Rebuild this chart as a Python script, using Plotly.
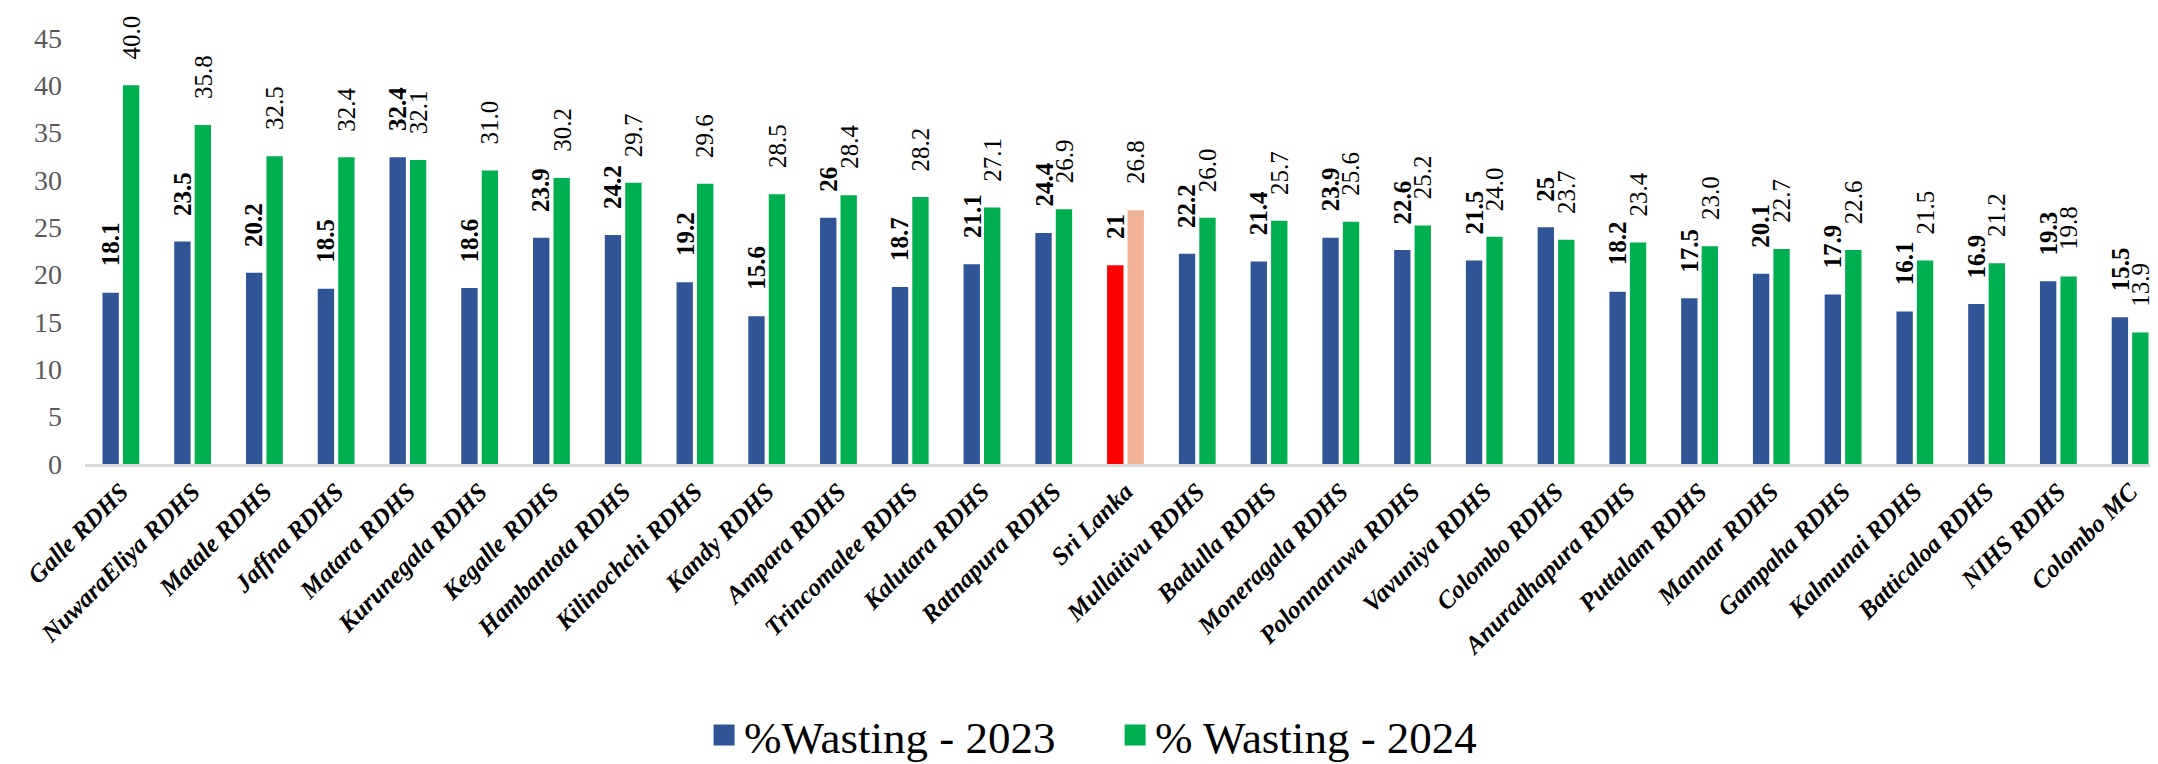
import plotly.graph_objects as go

categories = ["Galle RDHS", "NuwaraEliya RDHS", "Matale RDHS", "Jaffna RDHS", "Matara RDHS",
              "Kurunegala RDHS", "Kegalle RDHS", "Hambantota RDHS", "Kilinochchi RDHS", "Kandy RDHS",
              "Ampara RDHS", "Trincomalee RDHS", "Kalutara RDHS", "Ratnapura RDHS", "Sri Lanka",
              "Mullaitivu RDHS", "Badulla RDHS", "Moneragala RDHS", "Polonnaruwa RDHS", "Vavuniya RDHS",
              "Colombo RDHS", "Anuradhapura RDHS", "Puttalam RDHS", "Mannar RDHS", "Gampaha RDHS",
              "Kalmunai RDHS", "Batticaloa RDHS", "NIHS RDHS", "Colombo MC"]
wasting_2023 = [18.1, 23.5, 20.2, 18.5, 32.4, 18.6, 23.9, 24.2, 19.2, 15.6,
                26, 18.7, 21.1, 24.4, 21, 22.2, 21.4, 23.9, 22.6, 21.5,
                25, 18.2, 17.5, 20.1, 17.9, 16.1, 16.9, 19.3, 15.5]
wasting_2024 = [40.0, 35.8, 32.5, 32.4, 32.1, 31.0, 30.2, 29.7, 29.6, 28.5,
                28.4, 28.2, 27.1, 26.9, 26.8, 26.0, 25.7, 25.6, 25.2, 24.0,
                23.7, 23.4, 23.0, 22.7, 22.6, 21.5, 21.2, 19.8, 13.9]
series_names = ["%Wasting - 2023", "% Wasting - 2024"]
y_ticks = [0, 5, 10, 15, 20, 25, 30, 35, 40, 45]

BLUE = "#2F5597"
GREEN = "#00B050"
RED = "#FF0000"
PEACH = "#F0B396"
FONT = "'Liberation Serif', 'Times New Roman', 'DejaVu Serif', serif"

colors_2023 = [RED if c == "Sri Lanka" else BLUE for c in categories]
colors_2024 = [PEACH if c == "Sri Lanka" else GREEN for c in categories]

fig = go.Figure()
fig.add_trace(go.Bar(x=categories, y=wasting_2023, name=series_names[0],
                     marker=dict(color=colors_2023, line=dict(width=0)), showlegend=False))
fig.add_trace(go.Bar(x=categories, y=wasting_2024, name=series_names[1],
                     marker=dict(color=colors_2024, line=dict(width=0)), showlegend=False))

# legend entries with larger square swatches
for nm, col in zip(series_names, [BLUE, GREEN]):
    fig.add_trace(go.Scatter(x=[None], y=[None], mode="markers", name=nm,
                             marker=dict(symbol="square", size=16, color=col,
                                         line=dict(color=col, width=5))))

XSH = 10.2
annotations = []
for c, v in zip(categories, wasting_2023):
    annotations.append(dict(x=c, y=v, xref="x", yref="y", text=f"{v:g}", showarrow=False,
                            textangle=-90, xanchor="center", yanchor="bottom",
                            xshift=-XSH, yshift=24,
                            font=dict(family=FONT, size=25, color="black", weight="bold")))
for c, v in zip(categories, wasting_2024):
    annotations.append(dict(x=c, y=v, xref="x", yref="y", text=f"{v:.1f}", showarrow=False,
                            textangle=-90, xanchor="center", yanchor="bottom",
                            xshift=XSH, yshift=24,
                            font=dict(family=FONT, size=25, color="black")))

fig.update_layout(
    width=2158, height=764,
    margin=dict(l=77, r=0, t=30, b=299),
    paper_bgcolor="white", plot_bgcolor="white",
    barmode="group", bargap=0.43, bargroupgap=0.2,
    font=dict(family=FONT, color="black"),
    annotations=annotations,
    legend=dict(orientation="h", x=0.495, xanchor="center", y=-0.637, yanchor="middle",
                font=dict(family=FONT, size=45, color="black"),
                entrywidth=366, itemsizing="trace"),
    xaxis=dict(showline=True, linecolor="#D9D9D9", linewidth=3, ticks="", showgrid=False,
               tickangle=-45, tickfont=dict(family=FONT, size=25, color="black",
                                            weight="bold", style="italic")),
    yaxis=dict(range=[0, 45], tickvals=y_ticks, showgrid=False, zeroline=False, showline=False,
               ticks="", ticklabelstandoff=22,
               tickfont=dict(family=FONT, size=28, color="#595959")),
)

fig.write_html("out.html")
